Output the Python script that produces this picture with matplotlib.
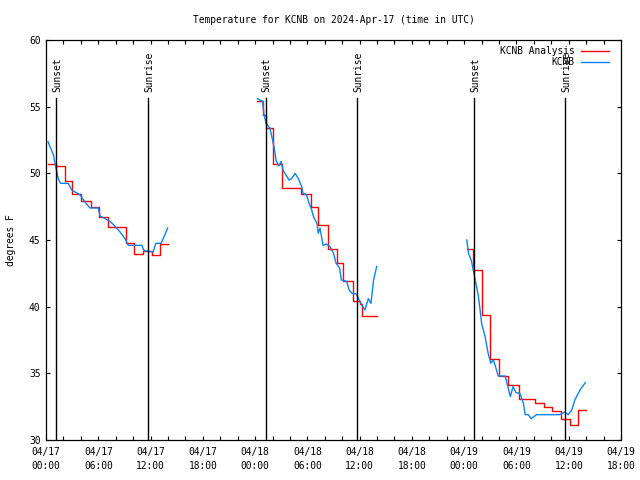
import numpy as np
import matplotlib
matplotlib.use("Agg")
import matplotlib.pyplot as plt
from datetime import datetime, timedelta

nan = np.nan
base = datetime(2024, 4, 17, 0, 0)

# Observations (KCNB): hours since 2024-04-17 00:00 UTC, temperature F
obs_hours = [0.23, 0.84, 1.15, 1.41, 1.68, 2.56, 2.95, 3.33, 3.9, 4.2, 4.6, 5.05, 6.0, 6.2, 6.77,
             7.35, 7.9, 8.5, 9.07, 9.45, 11.0, 11.25, 12.3, 12.6, 13.2, 13.55, 13.96, nan,
             24.26, 24.87, 25.0, 25.25, 25.7, 26.0, 26.2, 26.4, 26.7, 27.0, 27.2, 27.9, 28.2,
             28.6, 28.97, 29.35, 29.5, 29.9, 30.2, 30.5, 30.7, 31.1, 31.25, 31.45, 31.8, 32.2,
             32.6, 33.0, 33.3, 33.7, 33.9, 34.5, 34.8, 35.1, 35.65, 36.0, 36.6, 37.0, 37.3,
             37.6, 37.95, nan,
             48.3, 48.5, 48.8, 49.05, 49.3, 49.6, 49.8, 50.0, 50.4, 50.75, 51.05, 51.35, 51.6,
             51.9, 52.7, 53.05, 53.3, 53.6, 53.95, 54.4, 54.8, 55.0, 55.35, 55.7, 56.3, 59.0,
             59.5, 59.95, 60.35, 60.7, 61.3, 61.9]
obs_temp = [52.37, 51.4, 50.4, 49.6, 49.25, 49.25, 48.75, 48.6, 48.4, 48.1, 47.75, 47.4, 47.4, 46.8,
            46.6, 46.4, 46.05, 45.6, 45.1, 44.6, 44.6, 44.2, 44.1, 44.75, 44.75, 45.25, 45.9, nan,
            55.6, 55.4, 54.5, 53.75, 53.4, 52.5, 51.9, 51.0, 50.55, 50.9, 50.25, 49.5, 49.6,
            50.0, 49.6, 49.0, 48.5, 48.4, 47.75, 47.25, 46.75, 46.25, 45.5, 45.9, 44.6, 44.7,
            44.5, 44.0, 43.25, 42.9, 42.0, 41.9, 41.25, 41.0, 40.95, 40.4, 39.75, 40.6, 40.25,
            42.0, 43.0, nan,
            45.0, 44.0, 43.5, 42.75, 41.9, 40.9, 39.9, 38.75, 37.75, 36.5, 35.75, 36.0, 35.5,
            34.8, 34.8, 33.9, 33.25, 34.0, 33.55, 33.5, 32.75, 31.9, 31.9, 31.6, 31.9, 31.9,
            32.1, 31.9, 32.25, 33.0, 33.75, 34.3]

# Analysis (KCNB Analysis): step change times and values
ana_hours = [0.2, 1.15, 2.15, 3.0, 4.05, 5.15, 6.1, 7.1, 9.2, 10.15, 11.1, 12.2, 13.1, 14.0, nan,
             24.26, 24.95, 25.2, 26.05, 27.1, 29.25, 30.4, 31.2, 32.35, 33.35, 34.1, 35.2, 36.05, 36.3, 37.95, nan,
             48.3, 49.0, 50.05, 51.0, 51.95, 53.05, 54.3, 56.1, 57.15, 58.1, 59.15, 60.1, 61.05, 61.95]
ana_temp = [50.7, 50.55, 49.4, 48.45, 47.9, 47.45, 46.7, 46.0, 44.75, 43.95, 44.15, 43.9, 44.7, 44.7, nan,
            55.4, 54.4, 53.4, 50.7, 48.9, 48.45, 47.45, 46.1, 44.3, 43.3, 41.9, 40.45, 40.2, 39.3, 39.3, nan,
            44.3, 42.75, 39.4, 36.1, 34.8, 34.1, 33.1, 32.75, 32.45, 32.2, 31.6, 31.1, 32.25, 32.25]

sunset_hours = [1.15, 25.22, 49.16]
sunrise_hours = [11.74, 35.73, 59.61]

tick_hours = list(range(0, 67, 6))
tick_labels = [(base + timedelta(hours=h)).strftime("%m/%d\n%H:%M") for h in tick_hours]

font = "DejaVu Sans Mono"
fs = 6.9
plt.rcParams['font.family'] = font

fig = plt.figure(figsize=(6.4, 4.8), dpi=100)
ax = fig.add_axes([46/640, 40/480, 575/640, 400/480])

ax.plot(ana_hours, ana_temp, color='#ff0000', lw=1.0, drawstyle='steps-post', label='KCNB Analysis')
ax.plot(obs_hours, obs_temp, color='#0a84f0', lw=1.0, label='KCNB')

for h in sunset_hours:
    ax.axvline(h, ymin=0, ymax=0.855, color='black', lw=1.0)
    ax.text(h + 0.12, 0.87, 'Sunset', rotation=90, ha='center', va='bottom',
            transform=ax.get_xaxis_transform(), fontsize=fs)
for h in sunrise_hours:
    ax.axvline(h, ymin=0, ymax=0.855, color='black', lw=1.0)
    ax.text(h + 0.12, 0.87, 'Sunrise', rotation=90, ha='center', va='bottom',
            transform=ax.get_xaxis_transform(), fontsize=fs)

ax.set_xlim(0, 66)
ax.set_ylim(30, 60)
ax.set_xticks(tick_hours)
ax.set_xticklabels(tick_labels, fontsize=fs, linespacing=1.55)
ax.set_xticks(list(range(0, 67, 2)), minor=True)
ax.set_yticks(range(30, 61, 5))
ax.set_yticklabels([str(v) for v in range(30, 61, 5)], fontsize=fs)
ax.tick_params(which='both', direction='in', top=True, right=True, length=3, width=0.8)
ax.tick_params(axis='x', which='major', pad=5)
ax.tick_params(axis='y', pad=4)
for s in ax.spines.values():
    s.set_linewidth(0.9)

ax.set_ylabel('degrees F', fontsize=fs, labelpad=9)
ax.set_title('Temperature for KCNB on 2024-Apr-17 (time in UTC)', fontsize=fs, pad=12)

leg = ax.legend(loc='upper right', bbox_to_anchor=(0.979, 0.985), frameon=False,
                markerfirst=False, fontsize=fs, handlelength=2.9, handletextpad=0.7,
                borderpad=0.0, borderaxespad=0.0, labelspacing=0.15)
for t in leg.get_texts():
    t.set_ha('right')

fig.savefig('out.png', dpi=100)
